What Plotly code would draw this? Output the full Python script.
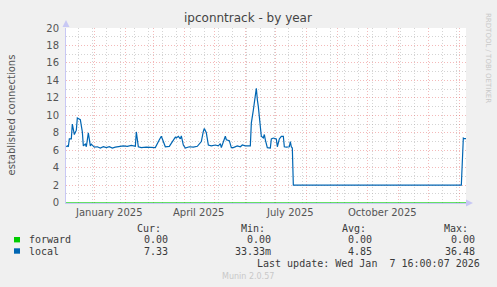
import plotly.graph_objects as go

# ---------------- data ----------------
x_start = "2024-12-03 16:00"
x_end = "2026-01-07 16:00"

local_dates = [
    "2024-12-04", "2024-12-05", "2024-12-06", "2024-12-07", "2024-12-09", "2024-12-10",
    "2024-12-12", "2024-12-14", "2024-12-15", "2024-12-18", "2024-12-20", "2024-12-21",
    "2024-12-23", "2024-12-24", "2024-12-26", "2024-12-28", "2024-12-29", "2025-01-01",
    "2025-01-04", "2025-01-07", "2025-01-10", "2025-01-13", "2025-01-16", "2025-01-19",
    "2025-01-22", "2025-01-26", "2025-01-30", "2025-02-03", "2025-02-07", "2025-02-11",
    "2025-02-12", "2025-02-14", "2025-02-17", "2025-02-22", "2025-02-27", "2025-03-03",
    "2025-03-07", "2025-03-09", "2025-03-11", "2025-03-13", "2025-03-17", "2025-03-20",
    "2025-03-23", "2025-03-24", "2025-03-26", "2025-03-28", "2025-03-29", "2025-03-31",
    "2025-04-02", "2025-04-06", "2025-04-10", "2025-04-14", "2025-04-18", "2025-04-20",
    "2025-04-21", "2025-04-23", "2025-04-25", "2025-04-28", "2025-05-02", "2025-05-05",
    "2025-05-07", "2025-05-08", "2025-05-12", "2025-05-13", "2025-05-16", "2025-05-18",
    "2025-05-20", "2025-05-24", "2025-05-27", "2025-05-29", "2025-06-01", "2025-06-06",
    "2025-06-07", "2025-06-09", "2025-06-11", "2025-06-12", "2025-06-13", "2025-06-14",
    "2025-06-16", "2025-06-17", "2025-06-19", "2025-06-20", "2025-06-21", "2025-06-23",
    "2025-06-26", "2025-06-27", "2025-06-29", "2025-07-02", "2025-07-03", "2025-07-05",
    "2025-07-07", "2025-07-09", "2025-07-10", "2025-07-12", "2025-07-15", "2025-07-16",
    "2025-07-17", "2025-07-18", "2025-07-19", "2026-01-03", "2026-01-05", "2026-01-06",
    "2026-01-07 16:00",
]
local_vals = [
    6.4, 6.5, 6.4, 7.3, 7.3, 9.0,
    7.8, 8.3, 9.7, 9.5, 8.1, 6.5,
    6.7, 6.4, 8.0, 6.5, 6.7, 6.35,
    6.4, 6.25, 6.4, 6.3, 6.4, 6.25,
    6.35, 6.45, 6.5, 6.45, 6.55, 6.45,
    8.1, 6.4, 6.3, 6.35, 6.3, 6.3,
    7.2, 7.6, 7.0, 6.4, 6.45, 7.0,
    7.5, 7.4, 7.6, 7.3, 7.65, 6.6,
    6.25, 6.4, 6.35, 6.45, 7.0, 8.15,
    8.5, 8.0, 6.6, 6.5, 6.6, 6.5,
    6.75, 6.3, 7.6, 7.2, 7.1, 6.3,
    6.3, 6.5, 6.4, 6.6, 6.5, 6.5,
    9.1, 10.6, 12.5, 13.1, 11.8, 11.0,
    8.7, 7.6, 7.4, 7.8, 7.2, 6.3,
    6.25, 7.3, 7.4, 7.3, 6.4, 7.3,
    7.6, 7.6, 6.4, 6.35, 6.4, 7.0,
    6.4, 6.25, 2.0, 2.0, 7.4, 7.33,
    7.33,
]
forward_dates = [x_start, x_end]
forward_vals = [0.0, 0.0]

label_dates = ["2025-01-16", "2025-04-15", "2025-07-16", "2025-10-16"]
label_texts = ["January 2025", "April 2025", "July 2025", "October 2025"]

series_names = ["forward", "local"]
series_colors = ["#00cc00", "#0066b3"]
stat_cur = ["0.00", "7.33"]
stat_min = ["0.00", "33.33m"]
stat_avg = ["0.00", "4.85"]
stat_max = ["0.00", "36.48"]

# ---------------- layout helpers ----------------
W, H = 497, 287
L, R, T, B = 66, 31, 28, 84
PW, PH = W - L - R, H - T - B


def px(xp):
    return (xp - L) / PW


def py(yp):
    return (T + PH - yp) / PH


fig = go.Figure()
fig.add_trace(go.Scatter(x=forward_dates, y=forward_vals, mode="lines",
                         line=dict(color=series_colors[0], width=1.2),
                         opacity=0.6, hoverinfo="skip"))
fig.add_trace(go.Scatter(x=local_dates, y=local_vals, mode="lines",
                         line=dict(color=series_colors[1], width=1.2),
                         hoverinfo="skip"))

red_grid = "rgba(230,100,100,0.45)"
gray_grid = "rgba(170,170,170,0.5)"

fig.update_layout(
    width=W, height=H,
    margin=dict(l=L, r=R, t=T, b=B),
    paper_bgcolor="#f0f0f0",
    plot_bgcolor="#ffffff",
    showlegend=False,
    font=dict(family="DejaVu Sans", size=10, color="#555555"),
    xaxis=dict(
        type="date",
        range=[x_start, x_end],
        tickmode="linear", tick0="2025-01-01", dtick="M1",
        showgrid=True, gridcolor=red_grid, griddash="1px,2px", gridwidth=1,
        showticklabels=False, ticks="",
        minor=dict(tickmode="linear", tick0="2024-12-16", dtick=14 * 86400000,
                   showgrid=True, gridcolor=gray_grid, griddash="1px,2px", ticks=""),
        showline=True, linecolor="#c8c8f4", linewidth=1,
        zeroline=False, fixedrange=True,
    ),
    yaxis=dict(
        range=[-0.04, 20.0],
        tickmode="linear", tick0=0, dtick=2,
        showgrid=True, gridcolor=red_grid, griddash="1px,2px", gridwidth=1,
        minor=dict(tickmode="linear", tick0=0, dtick=1, showgrid=True,
                   gridcolor=gray_grid, griddash="1px,2px", ticks=""),
        ticks="outside", ticklen=4, tickcolor="rgba(0,0,0,0)",
        tickfont=dict(size=10, color="#555555"),
        showline=True, linecolor="#c8c8f4", linewidth=1,
        zeroline=False, fixedrange=True,
    ),
)

ann = []
# title
ann.append(dict(text="ipconntrack - by year", x=px(248), y=py(18), xref="paper", yref="paper",
                showarrow=False, xanchor="center", yanchor="middle",
                font=dict(family="DejaVu Sans", size=12, color="#444444")))
# y axis title
ann.append(dict(text="established connections", x=px(11), y=py(114.5), xref="paper", yref="paper",
                showarrow=False, xanchor="center", yanchor="middle", textangle=-90,
                font=dict(family="DejaVu Sans", size=10, color="#555555")))
# x labels
for d, t in zip(label_dates, label_texts):
    ann.append(dict(text=t, x=d, y=py(212), xref="x", yref="paper", showarrow=False,
                    xanchor="center", yanchor="middle",
                    font=dict(family="DejaVu Sans", size=10, color="#555555")))
# rrdtool credit
ann.append(dict(text="RRDTOOL / TOBI OETIKER", x=px(488), y=py(58), xref="paper", yref="paper",
                showarrow=False, xanchor="center", yanchor="middle", textangle=90,
                font=dict(family="DejaVu Sans", size=7, color="#c8c8c8")))

mono = dict(family="DejaVu Sans Mono", size=10, color="#3a3a3a")
for xr, h in zip([163, 267, 368, 470], ["Cur:", "Min:", "Avg:", "Max:"]):
    ann.append(dict(text=h, x=px(xr), y=py(228), xref="paper", yref="paper", showarrow=False,
                    xanchor="right", yanchor="middle", font=mono))
rows_y = [239.7, 251]
for i in range(2):
    ann.append(dict(text=series_names[i], x=px(27), y=py(rows_y[i]), xref="paper", yref="paper",
                    showarrow=False, xanchor="left", yanchor="middle", font=mono))
    for xr, vals in zip([170, 273, 374, 477], [stat_cur, stat_min, stat_avg, stat_max]):
        ann.append(dict(text=vals[i], x=px(xr), y=py(rows_y[i]), xref="paper", yref="paper",
                        showarrow=False, xanchor="right", yanchor="middle", font=mono))
ann.append(dict(text="Last update: Wed Jan  7 16:00:07 2026".replace(" ", "&nbsp;"),
                x=px(482), y=py(263.7), xref="paper", yref="paper",
                showarrow=False, xanchor="right", yanchor="middle", font=mono))
ann.append(dict(text="Munin 2.0.57", x=px(248), y=py(276), xref="paper", yref="paper",
                showarrow=False, xanchor="center", yanchor="middle",
                font=dict(family="DejaVu Sans", size=8, color="#c8c8c8")))
fig.update_layout(annotations=ann)

shapes = []
# legend squares
for i in range(2):
    shapes.append(dict(type="rect", xref="paper", yref="paper",
                       x0=px(14), x1=px(20), y0=py(rows_y[i] + 2.7), y1=py(rows_y[i] - 2.7),
                       fillcolor=series_colors[i], line=dict(width=0)))
# axis arrows
arrow_col = "#c8c8f4"
shapes.append(dict(type="path", xref="paper", yref="paper",
                   path=f"M {px(62.5)},{py(27)} L {px(69.5)},{py(27)} L {px(66)},{py(20)} Z",
                   fillcolor=arrow_col, line=dict(width=0)))
shapes.append(dict(type="path", xref="paper", yref="paper",
                   path=f"M {px(466)},{py(199.5)} L {px(466)},{py(206.5)} L {px(473)},{py(203)} Z",
                   fillcolor=arrow_col, line=dict(width=0)))
fig.update_layout(shapes=shapes)

fig.write_html("out.html")
